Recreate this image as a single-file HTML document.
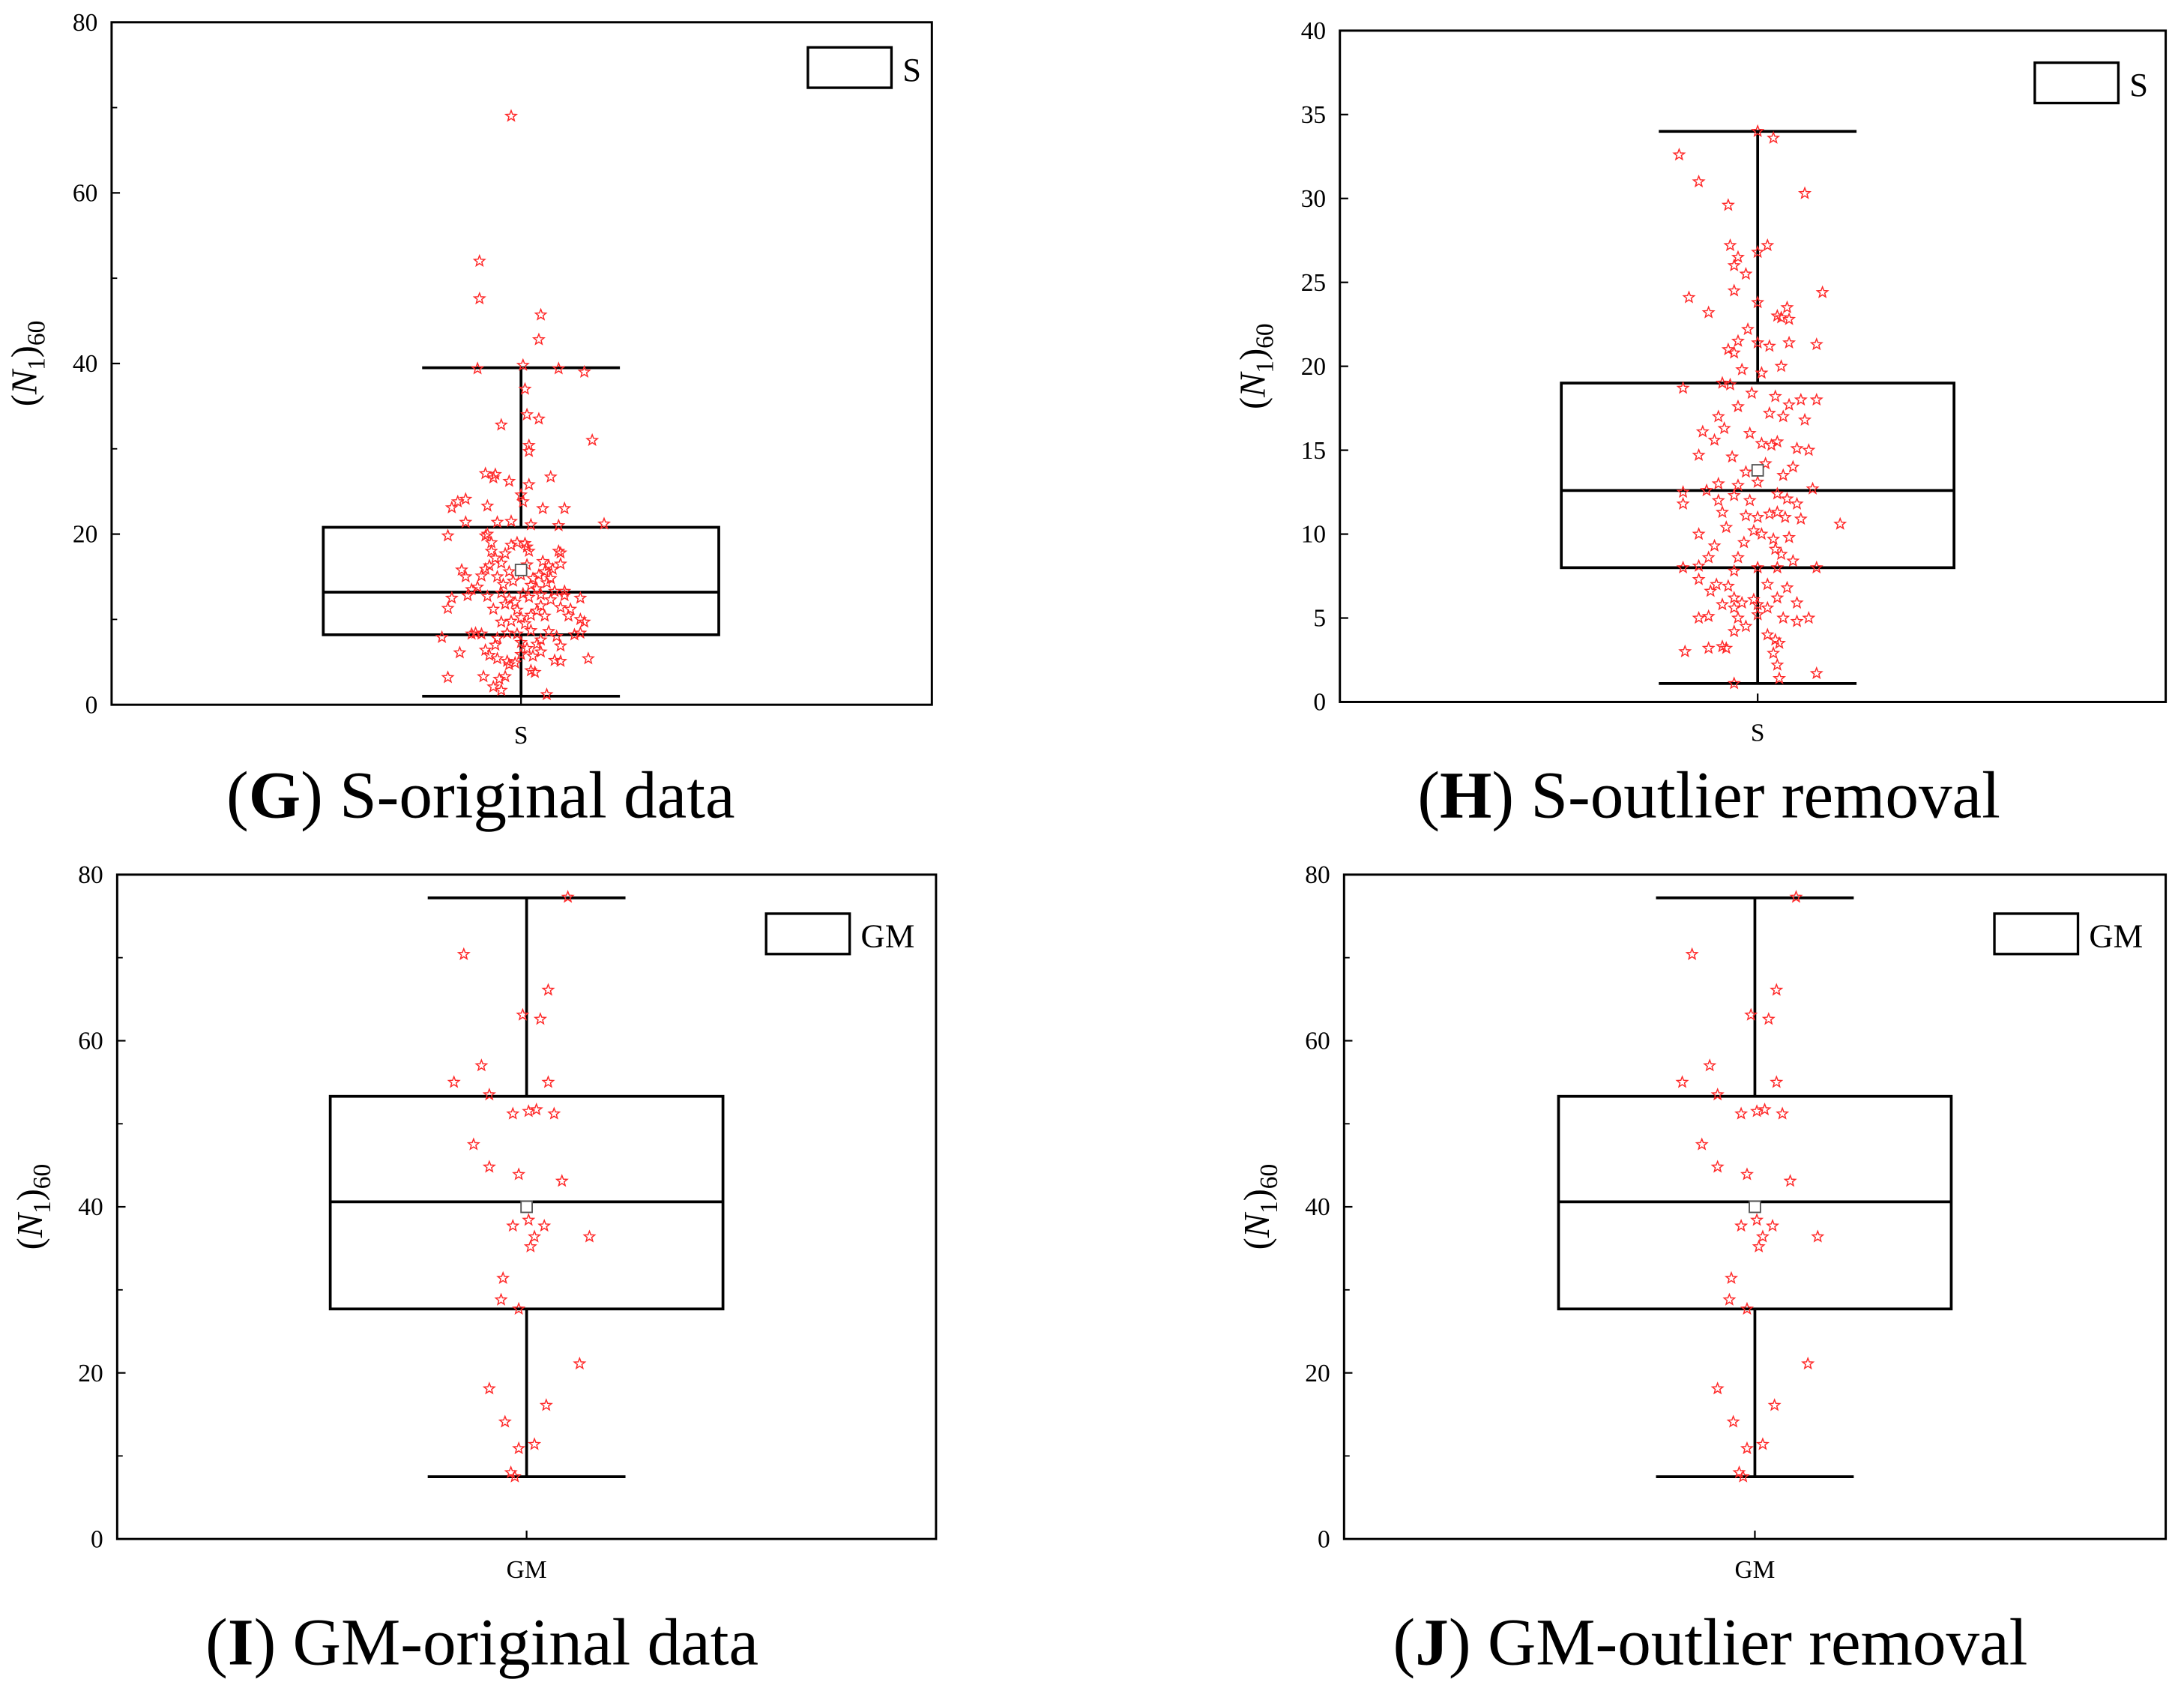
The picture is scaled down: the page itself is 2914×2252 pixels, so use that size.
<!DOCTYPE html>
<html><head><meta charset="utf-8"><style>
html,body{margin:0;padding:0;background:#fff}
svg{display:block}
text{font-family:"Liberation Serif",serif;fill:#000}
</style></head><body>
<svg id="fig" width="2914" height="2252" viewBox="0 0 1568 1212" xmlns="http://www.w3.org/2000/svg"></svg>
<script>
// ---- data ----
const gStats=[1,8.2,13.2,20.8,39.5,15.8]; // min,q1,median,q3,max,mean
const hStats=[1.1,8,12.6,19,34,13.8];
const gmStats=[7.5,27.7,40.6,53.3,77.2,40];
const gJit=[-.05,-.21,-.21,.1,.09,-.22,.01,.19,.32,.02,.03,.09,-.1,.36,.04,.04,-.18,-.13,-.14,-.06,.15,.04,0,.01,-.32,-.35,-.28,-.17,.11,.22,.42,-.28,-.12,-.05,.05,.19,-.37,-.18,-.17,
-.37,-.35,-.3,-.28,-.25,-.27,-.22,-.18,-.12,-.17,-.1,-.14,-.08,-.06,-.03,-.02,0,-.05,-.1,.02,.05,.08,.1,.12,.15,.2,.22,.3,.3,.32,.27,.3,.18,.14,.1,.05,-.02,-.07,-.12,-.2,-.23,-.4,-.31,-.18,-.16,-.12,-.07,-.06,0,.03,.06,.1,.17,.2,.2,.34,.05,.07,-.08,-.11,-.19,-.37,-.14,-.1,.13,-.03,0,.08,-.13,.04,.01,-.04,.06,.09,.12,.14,.11,.16,.2,.2,.19,.15,-.02,.02,.03,.04,-.05,-.15,-.13,-.1,-.16,-.08,0,.05,.08,.1,-.09,-.2,-.06,.13,.17,.22,.25,.24,-.25,.03,-.15];
const gVal=[69,52,47.6,45.7,42.8,39.4,39.8,39.4,39,37,34,33.5,32.8,31,30.4,29.7,27.1,27,26.6,26.2,26.7,25.8,24.6,23.8,23.8,23.1,24.1,23.3,23,23,21.2,21.4,21.4,21.5,21.1,21,19.8,19.8,20,
11.3,12.5,15.8,15,13.5,12.8,13.8,15.9,15,12.7,13.1,11.2,11.8,12.4,12,11.1,10.2,9.8,9.7,9.5,10.5,11,11.6,10.4,12.3,11.4,12.8,12.5,10,9.7,8.2,8.4,8,8.6,7.6,8.7,8.3,8.4,7.8,8.3,8.4,7.9,6.1,6.4,5.8,5.4,5.1,4.7,5.9,6.6,5.7,6.2,5.2,5.1,6.9,5.4,4,3.8,3.3,3,3.3,3.2,2.1,1.7,1.2,4.9,7.3,7.1,7,12.6,13,14.5,14.8,15.2,15.6,16.3,16.8,15.9,17.8,16.5,18,14.8,19,18.9,18.5,18,18.7,18,17.2,16.6,16.3,17.7,15.2,14,13.6,12.9,14.1,15.1,15.6,14.3,13.3,13.3,11.2,10.4,8.3,16.4,19];
const hJit=[0,.08,-.4,-.3,.24,-.15,.05,0,-.14,-.1,-.12,-.06,-.12,.33,-.35,-.25,0,.1,.15,.16,.12,-.05,-.1,-.15,0,.06,.16,.3,-.12,-.08,.02,.12,-.18,-.14,-.38,-.03,.09,.22,.3,.16,-.1,-.2,.06,.13,.24,-.17,-.04,.02,.07,.1,-.22,-.28,.26,.2,-.3,-.13,.04,.18,-.06,.13,-.2,-.1,0,.28,.1,-.38,-.26,-.2,-.12,-.04,.15,.2,-.38,-.18,-.06,0,.06,.1,.14,.22,.42,-.3,-.16,-.02,.02,.08,.16,-.22,-.07,.09,.12,-.25,-.1,.18,-.38,-.3,-.12,0,.1,.3,-.3,-.21,-.15,.05,.15,-.24,-.12,-.02,0,.05,.1,.2,-.18,-.12,-.08,-.3,-.25,-.1,0,.13,.26,-.12,.05,.09,.11,-.25,-.18,-.16,-.37,.08,.1,-.12,.3,.11,.2,-.06];
const hVal=[34,33.6,32.6,31,30.3,29.6,27.2,26.8,27.2,26.5,26,25.5,24.5,24.4,24.1,23.2,23.8,23,23.5,22.8,22.9,22.2,21.5,21,21.4,21.2,21.4,21.3,20.8,19.8,19.6,20,19,18.9,18.7,18.4,18.2,18,18,17.7,17.6,17,17.2,17,16.8,16.3,16,15.4,15.3,15.5,15.6,16.1,15,15.1,14.7,14.6,14.2,14,13.7,13.5,13,12.9,13.1,12.7,12.4,12.5,12.6,12,12.3,12,12.1,11.8,11.8,11.3,11.1,11,11.2,11.3,11,10.9,10.6,10,10.4,10.2,10,9.7,9.8,9.3,9.5,9.1,8.8,8.6,8.6,8.4,8,8.1,7.8,8,8,8,7.3,7,6.9,7,6.8,6.6,6.2,6.1,5.8,5.6,6.2,5.9,5.8,5.6,5.9,5,5.1,5,5.2,5,5,4.2,4,3.7,3.5,3.2,3.3,3.2,3,2.9,2.2,1.1,1.7,1.4,4.8,4.5];
const gmJit=[.21,-.32,.11,-.02,.07,-.23,-.37,.11,-.19,-.07,.01,.05,.14,-.27,-.19,-.04,.18,.01,-.07,.09,.04,.32,.02,-.12,-.13,-.04,.27,-.19,.1,-.11,.04,-.04,-.08,-.06];
const gmVal=[77.3,70.4,66.1,63.1,62.6,57,55,55,53.5,51.2,51.5,51.7,51.2,47.5,44.8,43.9,43.1,38.4,37.7,37.7,36.4,36.4,35.2,31.4,28.8,27.7,21.1,18.1,16.1,14.1,11.4,10.9,8,7.5];
const tick20=[0,20,40,60,80];
const tick5=[0,5,10,15,20,25,30,35,40];

const NS="http://www.w3.org/2000/svg";
const svg=document.getElementById('fig');
function mk(tag,attrs,parent,txt){const e=document.createElementNS(NS,tag);for(const k in attrs)e.setAttribute(k,attrs[k]);if(txt!==undefined)e.textContent=txt;(parent||svg).appendChild(e);return e;}

function panel(p){
  const g=mk('g',{});
  
  
  const y=v=>p.y1-(v-p.ymin)/(p.ymax-p.ymin)*(p.y1-p.y0);
  const x=j=>p.cx+j*p.half;
  const fr=mk('rect',{x:p.x0,y:p.y0,width:p.x1-p.x0,height:p.y1-p.y0,fill:'none',stroke:'#000','stroke-width':1.6},g);
  
  
  p.ticks.forEach(t=>{
    const yy=y(t);
    mk('line',{x1:p.x0,x2:p.x0+6,y1:yy,y2:yy,stroke:'#000','stroke-width':1.2},g);
    const lb=mk('text',{x:p.x0-10,y:yy+6,'font-size':18,'text-anchor':'end'},g,String(t));
    
    
  });
  p.minor.forEach(t=>{const yy=y(t);mk('line',{x1:p.x0,x2:p.x0+4,y1:yy,y2:yy,stroke:'#000','stroke-width':1},g);});
  mk('line',{x1:p.cx,x2:p.cx,y1:p.y1,y2:p.y1-6,stroke:'#000','stroke-width':1.2},g);
  const xl=mk('text',{x:p.cx,y:p.y1+28,'font-size':18,'text-anchor':'middle'},g,p.cat);
  
  
  const yt=mk('text',{transform:`translate(${p.x0-54},${(p.y0+p.y1)/2}) rotate(-90)`,'font-size':26,'text-anchor':'middle'},g);
  
  
  mk('tspan',{},yt,'(');mk('tspan',{'font-style':'italic'},yt,'N');
  mk('tspan',{'font-size':18,dy:6},yt,'1');mk('tspan',{dy:-6},yt,')');mk('tspan',{'font-size':18,dy:6},yt,'60');
  const s=p.stats;
  const wh=mk('g',{stroke:'#000','stroke-width':2,fill:'none'},g);
  
  
  mk('line',{x1:p.cx,x2:p.cx,y1:y(s[0]),y2:y(s[1])},wh);
  mk('line',{x1:p.cx,x2:p.cx,y1:y(s[3]),y2:y(s[4])},wh);
  mk('line',{x1:p.cx-p.cap,x2:p.cx+p.cap,y1:y(s[0]),y2:y(s[0])},wh);
  mk('line',{x1:p.cx-p.cap,x2:p.cx+p.cap,y1:y(s[4]),y2:y(s[4])},wh);
  mk('rect',{x:p.cx-p.half,y:y(s[3]),width:2*p.half,height:y(s[1])-y(s[3])},wh);
  mk('line',{x1:p.cx-p.half,x2:p.cx+p.half,y1:y(s[2]),y2:y(s[2])},wh);
  const pts=mk('g',{fill:'none',stroke:'#ff2a2a','stroke-width':0.8},g);
  
  
  p.vals.forEach((v,i)=>{
    const px=x(p.jit[i]),py=y(v);let d='';
    for(let k=0;k<10;k++){const r=k%2?1.7:4,a=-Math.PI/2+k*Math.PI/5;d+=(k?'L':'M')+(px+r*Math.cos(a)).toFixed(2)+','+(py+r*Math.sin(a)).toFixed(2);}
    const st=mk('path',{d:d+'Z'},pts);
    
    
  });
  const mn=mk('rect',{x:p.cx-4,y:y(s[5])-4,width:8,height:8,fill:'#fff',stroke:'#555','stroke-width':1},g);
  
  
  const lg=mk('g',{},g);
  
  
  mk('rect',{x:p.lx,y:p.ly,width:60,height:29,fill:'none',stroke:'#000','stroke-width':1.8},lg);
  mk('text',{x:p.lx+68,y:p.ly+24,'font-size':24},lg,p.cat);
  const cp=mk('text',{x:p.capX,y:p.capY,'font-size':48,'text-anchor':'middle'},g);
  
  
  mk('tspan',{},cp,'(');mk('tspan',{'font-weight':'bold'},cp,p.letter);mk('tspan',{},cp,') '+p.caption);
}
panel({name:'panel-g',x0:80,x1:669,y0:16,y1:506,ymin:0,ymax:80,ticks:tick20,minor:[10,30,50,70],cx:374,half:142,cap:71,stats:gStats,jit:gJit,vals:gVal,cat:'S',lx:580,ly:34,capX:345,capY:587,letter:'G',caption:'S-original data'});
panel({name:'panel-h',x0:962,x1:1555,y0:22,y1:504,ymin:0,ymax:40,ticks:tick5,minor:[],cx:1262,half:141,cap:71,stats:hStats,jit:hJit,vals:hVal,cat:'S',lx:1461,ly:45,capX:1227,capY:587,letter:'H',caption:'S-outlier removal'});
panel({name:'panel-i',x0:84,x1:672,y0:628,y1:1105,ymin:0,ymax:80,ticks:tick20,minor:[10,30,50,70],cx:378,half:141,cap:71,stats:gmStats,jit:gmJit,vals:gmVal,cat:'GM',lx:550,ly:656,capX:346,capY:1195,letter:'I',caption:'GM-original data'});
panel({name:'panel-j',x0:965,x1:1555,y0:628,y1:1105,ymin:0,ymax:80,ticks:tick20,minor:[10,30,50,70],cx:1260,half:141,cap:71,stats:gmStats,jit:gmJit,vals:gmVal,cat:'GM',lx:1432,ly:656,capX:1228,capY:1195,letter:'J',caption:'GM-outlier removal'});
</script>
</body></html>
